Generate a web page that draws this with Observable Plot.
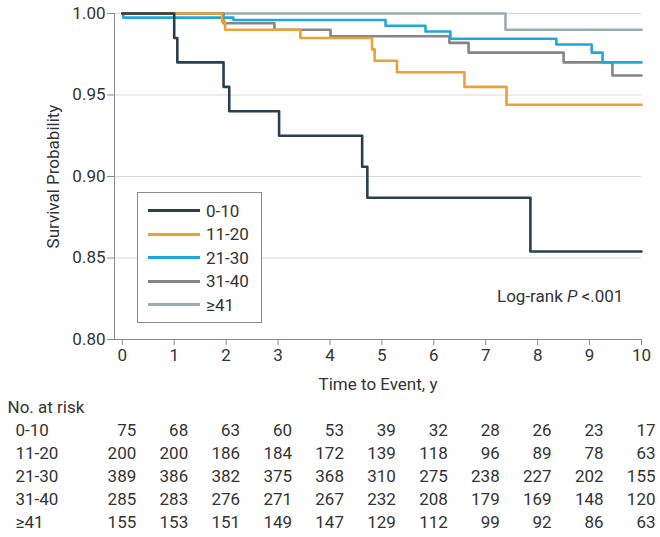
<!DOCTYPE html>
<html><head><meta charset="utf-8">
<script src="https://cdn.jsdelivr.net/npm/d3@7"></script>
<script src="https://cdn.jsdelivr.net/npm/@observablehq/plot@0.6"></script>
<style>
body{margin:0;background:#fff;font-family:Roboto,sans-serif;color:#333}
#wrap{position:relative;width:660px;height:537px;overflow:hidden}
#wrap svg{display:block}
#legend{position:absolute;left:137px;top:192px;width:125px;height:131px;border:1px solid #8a8a8a;box-sizing:border-box;background:#fff;padding-top:6px}
#legend .row{height:23.5px;display:flex;align-items:center;font-size:17px;color:#333}
#legend .sw{display:inline-block;width:52px;height:2.6px;margin-left:10px;margin-right:6px}
#logrank{position:absolute;left:497px;top:286px;font-size:17px;color:#333;white-space:nowrap}
</style>
</head><body>
<div id="wrap"></div>
<script>
// ---- data ----
const groups = ["0-10", "11-20", "21-30", "31-40", "≥41"];
const colors = ["#2a3f4c", "#eca136", "#1ea8da", "#858585", "#9aabb5"];

const t_0_10  = [0, 1.00, 1.06, 1.95, 2.06, 3.02, 4.62, 4.72, 7.86, 10];
const s_0_10  = [1, 0.985, 0.970, 0.955, 0.940, 0.925, 0.906, 0.887, 0.854, 0.854];
const t_11_20 = [0, 1.92, 1.98, 3.43, 4.81, 4.86, 5.29, 6.59, 7.40, 10];
const s_11_20 = [1, 0.995, 0.990, 0.985, 0.978, 0.971, 0.964, 0.955, 0.944, 0.944];
const t_21_30 = [0, 0.02, 2.14, 5.07, 5.84, 6.32, 8.36, 9.04, 9.25, 10];
const s_21_30 = [1, 0.9975, 0.996, 0.9925, 0.989, 0.9845, 0.981, 0.976, 0.970, 0.970];
const t_31_40 = [0, 1.95, 2.93, 4.01, 6.30, 6.67, 8.50, 9.44, 10];
const s_31_40 = [1, 0.994, 0.990, 0.986, 0.982, 0.976, 0.970, 0.962, 0.962];
const t_41    = [0, 7.38, 10];
const s_41    = [1, 0.990, 0.990];

const xTicks = [0, 1, 2, 3, 4, 5, 6, 7, 8, 9, 10];
const yTicks = [0.80, 0.85, 0.90, 0.95, 1.00];
const xDomain = [-0.15, 10];
const yDomain = [0.80, 1.00];

const atRisk_0_10  = [75, 68, 63, 60, 53, 39, 32, 28, 26, 23, 17];
const atRisk_11_20 = [200, 200, 186, 184, 172, 139, 118, 96, 89, 78, 63];
const atRisk_21_30 = [389, 386, 382, 375, 368, 310, 275, 238, 227, 202, 155];
const atRisk_31_40 = [285, 283, 276, 271, 267, 232, 208, 179, 169, 148, 120];
const atRisk_41    = [155, 153, 151, 149, 147, 129, 112, 99, 92, 86, 63];

// ---- build tables ----
const curveSets = [[t_0_10, s_0_10], [t_11_20, s_11_20], [t_21_30, s_21_30], [t_31_40, s_31_40], [t_41, s_41]];
const curves = [];
curveSets.forEach(([ts, ss], i) => ts.forEach((t, j) => curves.push({group: groups[i], t, s: ss[j]})));
const drawOrder = ["≥41", "31-40", "21-30", "11-20", "0-10"];

const riskSets = [atRisk_0_10, atRisk_11_20, atRisk_21_30, atRisk_31_40, atRisk_41];
const risk = [];
riskSets.forEach((arr, i) => arr.forEach((n, j) => risk.push({group: groups[i], t: xTicks[j], n})));
const header = "No. at risk";
const rowsY = [header, ...groups];

const font = {fontFamily: "Roboto, sans-serif", fontSize: "16px", color: "#333", background: "#fff", overflow: "visible"};

const chart = Plot.plot({
  width: 660, height: 395,
  marginLeft: 114, marginRight: 19, marginTop: 13, marginBottom: 56,
  style: font,
  x: {domain: xDomain},
  y: {domain: yDomain},
  color: {domain: groups, range: colors},
  marks: [
    Plot.gridY(yTicks.slice(1), {stroke: "#d8d8d8", strokeOpacity: 1}),
    Plot.ruleX([xDomain[0]], {stroke: "#8a8a8a"}),
    Plot.ruleY([yDomain[0]], {stroke: "#8a8a8a"}),
    Plot.axisY({ticks: yTicks, tickFormat: d3.format(".2f"), tickSize: 7, tickPadding: 2, stroke: "#8a8a8a", fill: "#333", fontSize: 17, label: null}),
    Plot.axisY({ticks: [], tickSize: 0, label: "Survival Probability", labelAnchor: "center", labelArrow: "none", labelOffset: 68, dy: -8, fill: "#333", fontSize: 17}),
    Plot.axisX({ticks: xTicks, tickFormat: d => String(d), tickSize: 6, tickPadding: 3, stroke: "#8a8a8a", fill: "#333", fontSize: 17,
      label: "Time to Event, y", labelAnchor: "center", labelArrow: "none", labelOffset: 50}),
    ...drawOrder.map(g => Plot.line(curves.filter(d => d.group === g), {x: "t", y: "s", stroke: "group", strokeWidth: 2.6, curve: "step-after"}))
  ]
});

const table = Plot.plot({
  width: 660, height: 142,
  marginLeft: 114, marginRight: 19, marginTop: 0, marginBottom: 0,
  style: font,
  x: {domain: xDomain, axis: null},
  y: {type: "point", domain: rowsY, range: [12, 127], padding: 0, axis: null},
  marks: [
    Plot.text([header], {y: d => d, frameAnchor: "left", dx: -107, textAnchor: "start", fontSize: 17, fill: "#333"}),
    Plot.text(groups, {y: d => d, frameAnchor: "left", dx: -99, textAnchor: "start", fontSize: 17, fill: "#333"}),
    Plot.text(risk, {x: "t", y: "group", text: "n", textAnchor: "end", dx: 14, fontSize: 17, fill: "#333"})
  ]
});

const wrap = document.getElementById("wrap");
wrap.appendChild(chart);
wrap.appendChild(table);

const legend = document.createElement("div");
legend.id = "legend";
groups.forEach((g, i) => {
  const row = document.createElement("div");
  row.className = "row";
  const sw = document.createElement("span");
  sw.className = "sw";
  sw.style.background = colors[i];
  row.appendChild(sw);
  row.appendChild(document.createTextNode(g));
  legend.appendChild(row);
});
wrap.appendChild(legend);

const lr = document.createElement("div");
lr.id = "logrank";
lr.innerHTML = "Log-rank <i>P</i> &lt;.001";
wrap.appendChild(lr);
</script>
</body></html>
